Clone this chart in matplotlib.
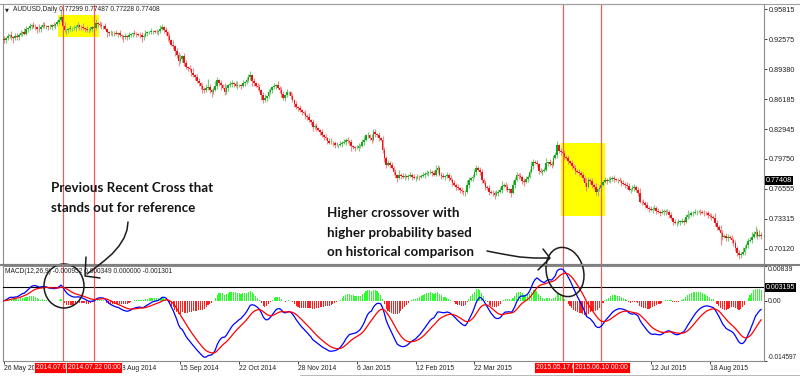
import numpy as np
import pandas as pd
import matplotlib
matplotlib.use("Agg")
import matplotlib.pyplot as plt
from matplotlib.patches import Rectangle, Ellipse
from matplotlib.lines import Line2D
from matplotlib.transforms import Affine2D, blended_transform_factory

plt.rcParams['font.family'] = ['Liberation Sans', 'DejaVu Sans']

# ---------------- data (AUDUSD daily) ----------------
CLOSE_PIPS = [
    9250, 9271, 9290, 9303, 9280, 9270, 9290, 9282, 9310, 9325, 9335, 9320, 9367, 9380, 9400, 9410, 9395, 9389, 9372, 9367,
    9395, 9410, 9400, 9400, 9389, 9395, 9410, 9405, 9421, 9440, 9464, 9496, 9400, 9357, 9357, 9367, 9378, 9378, 9385, 9395,
    9410, 9395, 9389, 9378, 9370, 9357, 9360, 9367, 9389, 9380, 9432, 9420, 9410, 9400, 9400, 9370, 9335, 9325, 9325, 9330,
    9325, 9320, 9325, 9303, 9290, 9282, 9290, 9282, 9303, 9314, 9325, 9318, 9314, 9310, 9303, 9282, 9300, 9325, 9335, 9335,
    9346, 9346, 9340, 9335, 9346, 9370, 9389, 9360, 9335, 9290, 9250, 9200, 9185, 9130, 9089, 9025, 9050, 9078, 9000, 8960,
    8950, 8939, 8900, 8875, 8850, 8810, 8789, 8760, 8730, 8714, 8736, 8750, 8714, 8693, 8720, 8760, 8821, 8790, 8768, 8740,
    8693, 8740, 8768, 8780, 8789, 8775, 8760, 8768, 8768, 8760, 8789, 8800, 8821, 8850, 8875, 8810, 8789, 8760, 8746, 8714,
    8660, 8607, 8629, 8650, 8693, 8720, 8746, 8760, 8768, 8740, 8714, 8670, 8629, 8660, 8693, 8693, 8650, 8607, 8570, 8532,
    8520, 8500, 8479, 8470, 8440, 8425, 8390, 8372, 8318, 8330, 8307, 8286, 8260, 8232, 8215, 8200, 8170, 8147, 8150, 8147,
    8130, 8125, 8125, 8135, 8147, 8160, 8179, 8165, 8157, 8110, 8100, 8093, 8093, 8110, 8115, 8160, 8179, 8232, 8232, 8200,
    8179, 8265, 8240, 8232, 8200, 8179, 8072, 7986, 7911, 7933, 7911, 7880, 7836, 7800, 7772, 7804, 7790, 7783, 7790, 7783,
    7795, 7804, 7780, 7772, 7772, 7785, 7783, 7795, 7804, 7815, 7825, 7830, 7836, 7820, 7804, 7860, 7879, 7804, 7790, 7783,
    7790, 7804, 7772, 7750, 7718, 7700, 7676, 7660, 7644, 7630, 7622, 7622, 7700, 7751, 7770, 7783, 7840, 7879, 7858, 7836,
    7751, 7720, 7676, 7660, 7622, 7615, 7610, 7590, 7611, 7622, 7644, 7690, 7697, 7676, 7640, 7650, 7611, 7697, 7750, 7804,
    7790, 7783, 7740, 7729, 7760, 7783, 7836, 7900, 7943, 7933, 7920, 7850, 7836, 7850, 7858, 7933, 7940, 7920, 7911, 7990,
    8018, 8125, 8060, 8050, 8040, 8000, 7986, 7950, 7933, 7900, 7879, 7850, 7836, 7825, 7800, 7772, 7720, 7676, 7751, 7740,
    7697, 7670, 7622, 7650, 7665, 7700, 7729, 7751, 7740, 7745, 7760, 7772, 7760, 7751, 7751, 7740, 7718, 7710, 7697, 7680,
    7644, 7650, 7660, 7676, 7640, 7611, 7515, 7510, 7504, 7480, 7451, 7440, 7429, 7440, 7451, 7420, 7408, 7397, 7408, 7420,
    7408, 7408, 7376, 7340, 7301, 7290, 7290, 7301, 7301, 7310, 7301, 7350, 7376, 7376, 7390, 7397, 7408, 7408, 7410, 7408,
    7400, 7397, 7390, 7376, 7360, 7354, 7344, 7290, 7247, 7215, 7180, 7140, 7150, 7130, 7140, 7130, 7110, 7076, 7020, 6970,
    6948, 6960, 6980, 7020, 7055, 7100, 7108, 7140, 7170, 7194, 7150, 7162, 7150,
]
FIRST_OPEN_PIPS = 9262

# wick lengths above / below the body, in units of WICK_UNIT
WICK_UNIT = 0.0016
WICK_UP = [
    2, 1, 2, 1, 3, 1, 2, 2, 1, 2, 1, 3, 2, 1, 2, 1, 2, 2, 1, 3,
    1, 2, 2, 1, 1, 2, 1, 2, 1, 2, 2, 5, 2, 3, 1, 1, 2, 1, 2, 1,
    2, 1, 1, 3, 1, 2, 1, 2, 1, 1, 3, 1, 2, 2, 1, 2, 1, 1, 2, 1,
    1, 2, 1, 2, 1, 1, 2, 1, 2, 1, 1, 2, 1, 1, 2, 2, 1, 2, 1, 1,
    2, 1, 1, 2, 1, 3, 2, 1, 2, 1, 2, 1, 3, 1, 2, 2, 3, 1, 2, 2,
    1, 2, 1, 3, 1, 2, 2, 1, 2, 1, 3, 5, 2, 1, 2, 3, 2, 1, 2, 1,
    3, 2, 1, 2, 2, 1, 2, 3, 1, 1, 2, 1, 2, 2, 3, 1, 2, 1, 2, 2,
    1, 2, 3, 1, 2, 1, 1, 2, 1, 3, 1, 2, 2, 1, 2, 1, 1, 2, 1, 2,
    1, 2, 1, 1, 2, 1, 3, 1, 2, 1, 2, 1, 1, 2, 1, 2, 1, 2, 3, 1,
    1, 2, 1, 2, 1, 2, 1, 2, 1, 2, 1, 1, 2, 2, 1, 2, 3, 1, 2, 1,
    3, 2, 2, 1, 2, 1, 3, 2, 1, 2, 1, 2, 1, 2, 1, 3, 1, 2, 2, 1,
    1, 2, 1, 2, 1, 2, 1, 1, 2, 1, 2, 1, 2, 1, 2, 3, 2, 1, 2, 2,
    1, 2, 1, 2, 1, 2, 1, 2, 1, 2, 1, 1, 3, 2, 1, 2, 2, 2, 1, 2,
    2, 1, 2, 1, 2, 1, 2, 1, 2, 1, 2, 3, 1, 2, 2, 1, 1, 3, 2, 2,
    1, 2, 1, 2, 2, 1, 2, 3, 2, 1, 2, 1, 2, 1, 2, 3, 1, 2, 2, 2,
    2, 3, 1, 2, 1, 2, 1, 2, 1, 2, 1, 2, 1, 2, 1, 2, 1, 3, 2, 1,
    2, 1, 3, 1, 2, 2, 1, 2, 1, 2, 2, 1, 2, 1, 1, 2, 1, 2, 1, 2,
    2, 1, 2, 2, 1, 2, 3, 1, 2, 1, 2, 1, 2, 1, 2, 1, 2, 1, 2, 1,
    1, 2, 1, 2, 1, 2, 1, 2, 1, 2, 1, 2, 3, 1, 2, 1, 2, 1, 1, 2,
    1, 2, 1, 2, 1, 2, 1, 3, 2, 1, 3, 2, 1, 2, 2, 1, 2, 1, 2, 1,
    2, 1, 3, 2, 1, 2, 2, 3, 2, 4, 2, 3, 2,
]
WICK_DN = [
    2, 2, 1, 1, 2, 3, 1, 2, 2, 1, 2, 1, 1, 2, 1, 2, 1, 2, 3, 2,
    2, 1, 1, 2, 2, 1, 2, 1, 2, 1, 1, 1, 2, 1, 3, 2, 1, 2, 1, 2,
    1, 2, 2, 1, 2, 1, 2, 1, 2, 1, 1, 2, 1, 2, 2, 1, 3, 2, 1, 2,
    2, 1, 2, 1, 2, 3, 1, 2, 1, 1, 2, 1, 2, 1, 2, 3, 2, 1, 2, 1,
    1, 2, 1, 1, 2, 1, 1, 2, 2, 3, 2, 1, 2, 3, 2, 3, 1, 2, 2, 1,
    2, 1, 2, 1, 2, 1, 2, 2, 3, 2, 1, 1, 2, 3, 1, 1, 2, 2, 3, 1,
    2, 1, 2, 1, 2, 2, 1, 2, 1, 2, 1, 2, 1, 1, 2, 3, 2, 1, 2, 1,
    3, 2, 1, 2, 1, 1, 2, 1, 2, 1, 2, 2, 1, 2, 1, 2, 2, 1, 2, 1,
    2, 1, 2, 1, 2, 2, 1, 2, 3, 1, 2, 1, 2, 1, 2, 1, 2, 1, 1, 2,
    2, 1, 2, 1, 2, 1, 2, 1, 2, 3, 1, 2, 1, 2, 1, 1, 2, 1, 2, 1,
    2, 1, 2, 1, 2, 1, 2, 3, 2, 1, 2, 1, 2, 2, 3, 1, 2, 1, 2, 1,
    2, 1, 2, 1, 2, 1, 2, 1, 1, 2, 1, 2, 1, 2, 1, 1, 2, 1, 2, 1,
    2, 1, 2, 1, 2, 1, 2, 1, 2, 1, 2, 3, 1, 2, 1, 2, 1, 2, 1, 2,
    2, 1, 2, 1, 2, 1, 2, 3, 1, 2, 1, 2, 1, 2, 1, 2, 3, 1, 2, 1,
    2, 1, 2, 3, 1, 2, 1, 1, 2, 1, 2, 2, 1, 2, 1, 1, 2, 1, 2, 1,
    1, 2, 1, 2, 1, 2, 1, 2, 1, 2, 1, 2, 1, 2, 1, 2, 2, 3, 1, 2,
    2, 1, 2, 3, 1, 2, 1, 1, 2, 1, 2, 1, 2, 1, 2, 1, 2, 1, 2, 2,
    1, 2, 1, 2, 1, 2, 1, 2, 1, 2, 1, 2, 1, 2, 1, 2, 1, 2, 1, 2,
    2, 1, 2, 1, 2, 1, 2, 1, 2, 1, 2, 1, 1, 2, 1, 2, 1, 2, 1, 2,
    1, 2, 1, 2, 1, 2, 1, 2, 2, 1, 8, 2, 1, 2, 2, 1, 2, 2, 2, 2,
    3, 2, 1, 2, 1, 2, 1, 2, 1, 2, 2, 1, 2,
]

PRICE_TICKS = [0.95815, 0.92575, 0.89380, 0.86185, 0.82945, 0.79750, 0.76555, 0.73315, 0.70120]
PRICE_RANGE = (0.68478, 0.96384)
LAST_PRICE = 0.77408
MACD_RANGE = (-0.014597, 0.00839)
MACD_TICKS = [0.00839, 0.0, -0.014597]
MACD_TICK_LABELS = ['0.00839', '0.00', '-0.014597']
MACD_LEVEL = 0.003195
# date labels that are visible on the time scale (the others sit under the red markers)
DATE_TICK_BARS = [0, 64, 96, 128, 160, 192, 224, 256, 352, 384]
DATE_TICK_LABELS = ['26 May 2014', '8 Aug 2014', '15 Sep 2014', '22 Oct 2014',
                    '28 Nov 2014', '6 Jan 2015', '12 Feb 2015', '22 Mar 2015',
                    '12 Jul 2015', '18 Aug 2015']
VLINE_BARS = [32, 49, 304, 325]
VLINE_LABELS = ['2014.07.01 00:00', '2014.07.22 00:00', '2015.05.17 00:00', '2015.06.10 00:00']
HIGHLIGHTS = [(29.4, 51.7, 0.92842, 0.95203), (303.1, 327.1, 0.73630, 0.81465)]
HEADER = 'AUDUSD,Daily 0.77299 0.77487 0.77228 0.77408'
MACD_HEADER = 'MACD(12,26,9) -0.000952 0.000349 0.000000 -0.001301'
NOTE1 = ['Previous Recent Cross that', 'stands out for reference']
NOTE2 = ['Higher crossover with', 'higher probability based', 'on historical comparison']

# ---------------- derived series ----------------
close = np.array(CLOSE_PIPS) / 10000.0
open_ = np.r_[FIRST_OPEN_PIPS / 10000.0, close[:-1]]
high = np.maximum(open_, close) + np.array(WICK_UP) * WICK_UNIT
low = np.minimum(open_, close) - np.array(WICK_DN) * WICK_UNIT
idx = np.arange(len(close))

s = pd.Series(close)
macd = s.ewm(span=12, adjust=False).mean() - s.ewm(span=26, adjust=False).mean()
signal = macd.ewm(span=9, adjust=False).mean()
hist = (macd - signal).values

# ---------------- figure / layout (pixel based) ----------------
W, H = 800, 376
fig = plt.figure(figsize=(W / 100, H / 100), dpi=100)
fig.patch.set_facecolor('white')

def fx(px):
    return px / W

def fy(py):
    return 1 - py / H

L, R = 3, 764
ax = fig.add_axes([fx(L), fy(264), fx(R) - fx(L), fy(4) - fy(264)])
axm = fig.add_axes([fx(L), fy(361), fx(R) - fx(L), fy(266) - fy(361)])

XL = (-0.544, 413.6)
frame_col = '#8c8c8c'
for a in (ax, axm):
    a.set_xlim(*XL)
    a.set_facecolor('white')
    for sp in a.spines.values():
        sp.set_color(frame_col)
        sp.set_linewidth(0.8)

# ---- main pane ----
ax.set_ylim(*PRICE_RANGE)
for (b0, b1, p0, p1) in HIGHLIGHTS:
    ax.add_patch(Rectangle((b0, p0), b1 - b0, p1 - p0, facecolor='#ffff00',
                           edgecolor='none', zorder=0.5))

bull = close >= open_
wick_cols = np.where(bull, '#7cc87c', '#f28a8a')
body_cols = np.where(bull, '#12a81c', '#e8141a')
ax.vlines(idx, low, high, colors=wick_cols, linewidth=0.8, zorder=2)
body_h = np.maximum(np.abs(close - open_), 0.0003)
ax.bar(idx, body_h, bottom=np.minimum(open_, close), width=0.9,
       color=body_cols, linewidth=0, zorder=3)

for b in VLINE_BARS:
    ax.axvline(b, color='#ff5252', lw=0.85, zorder=4)
    axm.axvline(b, color='#ff5252', lw=0.85, zorder=4)

ax.yaxis.tick_right()
ax.set_yticks(PRICE_TICKS)
ax.set_yticklabels([f'{v:.5f}' for v in PRICE_TICKS])
ax.tick_params(axis='y', length=2, width=0.6, pad=1.2, labelsize=5.2,
               colors='#202020', direction='out')
ax.set_xticks([])

ax.text(1.0025, LAST_PRICE, f'{LAST_PRICE:.5f}',
        transform=blended_transform_factory(ax.transAxes, ax.transData),
        ha='left', va='center', fontsize=5.2, color='white', zorder=10, clip_on=False,
        bbox=dict(boxstyle='square,pad=0.15', fc='black', ec='none'))

# ---- MACD pane ----
axm.set_ylim(*MACD_RANGE)
hcols = np.where(hist >= 0, '#2bff2b', '#ff2020')
axm.bar(idx, hist, width=0.6, color=hcols, linewidth=0, zorder=2)
axm.axhline(MACD_LEVEL, color='black', lw=0.8, zorder=3)
axm.plot(idx, macd.values, color='#0000ff', lw=0.9, zorder=5)
axm.plot(idx, signal.values, color='#ff0000', lw=0.9, zorder=5)

axm.yaxis.tick_right()
axm.set_yticks(MACD_TICKS)
axm.set_yticklabels(MACD_TICK_LABELS)
axm.tick_params(axis='y', length=2, width=0.6, pad=1.0, labelsize=5.0,
                colors='#202020', direction='out')
ylabs = axm.get_yticklabels()
ylabs[0].set_verticalalignment('top')
ylabs[2].set_verticalalignment('bottom')
ylabs[2].set_fontsize(4.7)

axm.text(1.0025, MACD_LEVEL, f'{MACD_LEVEL:.6f}',
         transform=blended_transform_factory(axm.transAxes, axm.transData),
         ha='left', va='center', fontsize=5.0, color='white', zorder=10, clip_on=False,
         bbox=dict(boxstyle='square,pad=0.15', fc='black', ec='none'))

axm.set_xticks(DATE_TICK_BARS)
axm.set_xticklabels(DATE_TICK_LABELS)
axm.tick_params(axis='x', length=2, width=0.6, pad=0.6, labelsize=4.9,
                colors='#202020', direction='out')
for lab in axm.get_xticklabels():
    lab.set_horizontalalignment('left')

ybox = (361 - 367.5) / 95.0
for b, lab in zip(VLINE_BARS, VLINE_LABELS):
    axm.text(b, ybox, lab, transform=blended_transform_factory(axm.transData, axm.transAxes),
             ha='center', va='center', fontsize=4.9, color='white', zorder=20, clip_on=False,
             bbox=dict(boxstyle='square,pad=0.3', fc='#ff0000', ec='white', lw=0.6))

# ---- frame lines ----
pix = Affine2D().scale(1.0 / W, -1.0 / H).translate(0, 1) + fig.transFigure
fig.add_artist(Line2D([0, W], [3.5, 3.5], transform=pix, color='#a0a0a0', lw=0.8))
fig.add_artist(Line2D([0, W], [265, 265], transform=pix, color='#808080', lw=1.5))
fig.add_artist(Line2D([300, W], [374.5, 374.5], transform=pix, color='#b8b8b8', lw=0.7))

# ---- header texts ----
fig.text(fx(5), fy(9.5), '\u25bc', fontsize=3.6, va='center', ha='left',
         family=['DejaVu Sans'], color='#202020')
fig.text(fx(13), fy(9.5), HEADER, fontsize=4.8, va='center', ha='left', color='#202020')
fig.text(fx(5), fy(271.5), MACD_HEADER, fontsize=4.8, va='center', ha='left', color='#202020')

# ---- hand-drawn annotations (pixel coordinates) ----
ink = '#1c1c1c'
note_font = dict(family=['Lato', 'DejaVu Sans'], weight='bold', fontsize=9.6, color='#141414')
for k, line in enumerate(NOTE1):
    fig.text(fx(51), fy(191.5 + 20 * k), line, va='baseline', ha='left', **note_font)
for k, line in enumerate(NOTE2):
    fig.text(fx(327), fy(217.3 + 19.4 * k), line, va='baseline', ha='left', **note_font)

ARROW1 = [(128, 222), (127, 230), (124, 238), (119, 246), (112, 254), (104, 261), (95, 268), (87, 274)]
HEAD1 = [(86, 257), (85, 276), (100, 278)]
ARROW2 = [(487, 251), (497, 253), (508, 255), (520, 257), (534, 258), (549, 258)]
HEAD2 = [(543, 249), (550, 258), (538, 270)]
for pts in (ARROW1, HEAD1, ARROW2, HEAD2):
    xs, ys = zip(*pts)
    fig.add_artist(Line2D(xs, ys, transform=pix, color=ink, lw=1.1,
                          solid_capstyle='round', solid_joinstyle='round'))
fig.add_artist(Ellipse((64, 286), 40, 44, angle=0, transform=pix, fill=False,
                       ec=ink, lw=1.1))
fig.add_artist(Ellipse((565, 272), 37, 50, angle=-15, transform=pix, fill=False,
                       ec=ink, lw=1.1))

fig.savefig('out.png', dpi=100, facecolor='white')
